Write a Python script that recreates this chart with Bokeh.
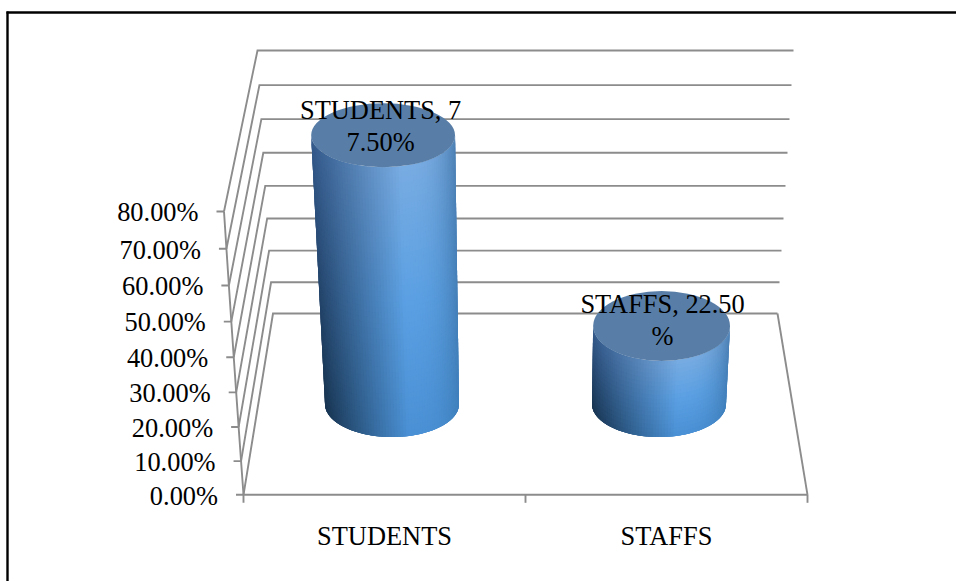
import math

from bokeh.core.properties import value
from bokeh.embed import file_html
from bokeh.models import ColumnDataSource, Range1d
from bokeh.plotting import figure
from bokeh.resources import INLINE

# Chart values
categories = ["STUDENTS", "STAFFS"]
shares = [77.50, 22.50]
label_breaks = [11, 13]
tick_values = [0, 10, 20, 30, 40, 50, 60, 70, 80]

FONT = value("Liberation Serif")
FONT_SIZE = "26.4px"
GREY = "#8c8c8c"
CAP = "#587ea7"
VMAX = 80.0
PERSP = 1.06
RULE = 1.9

# Corners of the 3D box on the canvas
FLOOR_FRONT_Y, FLOOR_BACK_Y = 494.3, 313.0
FRONT_TOP_Y, BACK_TOP_Y = 211.0, 50.0
FRONT_LEFT_X, FRONT_RIGHT_X = 243.0, 807.0
BACK_LEFT_X, BACK_RIGHT_X = 272.5, 777.0

# Mid-depth plane in which the cylinders stand
BASE_Y = 403.5
UNIT_Y = 3.467
SPREAD_X = 525.0
SPREAD = 0.00086
RADIUS = 67.0
BASE_RY = 33.0


def rise(v):
    t = v / VMAX
    return t / (t + (1 - t) * PERSP)


def front_x(v):
    return FRONT_LEFT_X - 19.5 * v / VMAX


def front_y(v):
    return FLOOR_FRONT_Y - (FLOOR_FRONT_Y - FRONT_TOP_Y) * rise(v)


def back_x(v):
    return BACK_LEFT_X - 15.5 * v / VMAX


def back_right_x(v):
    return BACK_RIGHT_X + 16.0 * v / VMAX


def back_y(v):
    return FLOOR_BACK_Y - (FLOOR_BACK_Y - BACK_TOP_Y) * rise(v)


def hex_to_rgb(h):
    return tuple(int(h[i:i + 2], 16) for i in (1, 3, 5))


def mix(a, b, t):
    return tuple(a[i] + (b[i] - a[i]) * t for i in range(3))


def ramp(stops, t):
    for (t0, c0), (t1, c1) in zip(stops, stops[1:]):
        if t <= t1:
            return mix(c0, c1, (t - t0) / (t1 - t0))
    return stops[-1][1]


CENTRE = [(0.0, hex_to_rgb("#78ace2")), (0.5, hex_to_rgb("#5ba0e3")), (1.0, hex_to_rgb("#4a90d4"))]
LEFT = [(0.0, hex_to_rgb("#33598a")), (1.0, hex_to_rgb("#183450"))]
RIGHT = [(0.0, hex_to_rgb("#4f82b5")), (1.0, hex_to_rgb("#4080bc"))]


def shade(u, f):
    """Colour of the cylinder wall at across-position u and down-position f."""
    mid = ramp(CENTRE, f)
    if u < 0.25:
        t = (u + 1) / 1.25
        c = mix(ramp(LEFT, f), mid, t)
    else:
        t = (u - 0.25) / 0.75
        c = mix(mid, ramp(RIGHT, f), t ** 3)
    return "#%02x%02x%02x" % tuple(int(round(x)) for x in c)


p = figure(width=956, height=581, output_backend="svg", toolbar_location=None,
           x_range=Range1d(0, 956), y_range=Range1d(581, 0),
           x_axis_type=None, y_axis_type=None, min_border=0,
           outline_line_color=None, background_fill_color="white")
p.grid.visible = False

# Frame around the chart area: only top and left edges show
p.line([7, 7], [11, 581], line_color="black", line_width=2.4)
p.line([6, 956], [12, 12], line_color="black", line_width=2.4)

# Back wall gridlines and the side wall returning to the front axis
for v in tick_values:
    p.line([front_x(v), back_x(v), back_right_x(v)],
           [front_y(v), back_y(v), back_y(v)],
           line_color=GREY, line_width=RULE, line_join="miter")
    p.line([front_x(v) - 7.5, front_x(v)], [front_y(v), front_y(v)],
           line_color=GREY, line_width=RULE)

# Front value axis
p.line([front_x(v) for v in tick_values], [front_y(v) for v in tick_values],
       line_color=GREY, line_width=RULE)

# Floor outline and category ticks
p.line([FRONT_LEFT_X, FRONT_RIGHT_X], [FLOOR_FRONT_Y, FLOOR_FRONT_Y], line_color=GREY, line_width=RULE)
p.line([BACK_RIGHT_X, FRONT_RIGHT_X], [FLOOR_BACK_Y, FLOOR_FRONT_Y], line_color=GREY, line_width=RULE)
slot = (FRONT_RIGHT_X - FRONT_LEFT_X) / len(categories)
for i in range(len(categories) + 1):
    x = FRONT_LEFT_X + i * slot
    p.line([x, x], [FLOOR_FRONT_Y, FLOOR_FRONT_Y + 8], line_color=GREY, line_width=RULE)

# Value tick labels
p.text(x=[front_x(v) - 25.5 for v in tick_values],
       y=[front_y(v) + 0.8 for v in tick_values],
       text=[f"{v:.2f}%" for v in tick_values],
       text_font=FONT, text_font_size=FONT_SIZE, text_color="#000000",
       text_align="right", text_baseline="middle")

# Category labels
p.text(x=[FRONT_LEFT_X + (i + 0.5) * slot for i in range(len(categories))],
       y=[535] * len(categories), text=categories,
       text_font=FONT, text_font_size=FONT_SIZE, text_color="#000000",
       text_align="center", text_baseline="middle")

# Cylinders: shaded wall facets painted left to right and top to bottom, each
# one overlapping the next so no seams show, with an elliptical cap on top
label_nudge = [(-2.5, -9.0), (1.0, -5.7)]
base_centres = [391.5, 658.5]
STEPS_U = 72
for share, base_x, name, brk, nudge in zip(shares, base_centres, categories, label_breaks, label_nudge):
    top_y = BASE_Y - UNIT_Y * share
    top_x = base_x + (base_x - SPREAD_X) * SPREAD * share
    top_r = RADIUS * (1 + 0.00095 * share)
    top_ry = 36.2 - 0.0545 * share
    rows = max(6, int((BASE_Y + BASE_RY - top_y) / 6))

    xs, ys, cols = [], [], []
    for i in range(STEPS_U):
        a0 = -math.pi / 2 + math.pi * i / STEPS_U
        a1 = -math.pi / 2 + math.pi * min(i + 2, STEPS_U) / STEPS_U
        am = -math.pi / 2 + math.pi * (i + 0.5) / STEPS_U
        u0, u1 = math.sin(a0), math.sin(a1)
        d0, d1 = math.cos(a0), math.cos(a1)
        for j in range(rows):
            f0, f1 = j / rows, min(j + 2, rows) / rows
            corners = []
            for u, d, f in ((u0, d0, f0), (u1, d1, f0), (u1, d1, f1), (u0, d0, f1)):
                y_upper = top_y + top_ry * d
                y_lower = BASE_Y + BASE_RY * d
                x_upper = top_x + top_r * u
                x_lower = base_x + RADIUS * u
                corners.append((x_upper + (x_lower - x_upper) * f, y_upper + (y_lower - y_upper) * f))
            xs.append([c[0] for c in corners])
            ys.append([c[1] for c in corners])
            cols.append(shade(math.sin(am), (j + 0.5) / rows))
    p.patches("xs", "ys", fill_color="cols", line_color=None,
              source=ColumnDataSource(dict(xs=xs, ys=ys, cols=cols)))

    p.ellipse(x=[top_x], y=[top_y], width=2 * top_r, height=2 * top_ry,
              fill_color=CAP, line_color=None)

    # Data label, wrapped the way the chart's label box wraps it
    text = f"{name}, {share:.2f}%"
    lines = [text[:brk], text[brk:]]
    p.text(x=[top_x + nudge[0]] * 2,
           y=[top_y + nudge[1] - 16, top_y + nudge[1] + 16],
           text=lines, text_font=FONT, text_font_size=FONT_SIZE, text_color="#000000",
           text_align="center", text_baseline="middle")

open("out.html", "w").write(file_html(p, INLINE))
